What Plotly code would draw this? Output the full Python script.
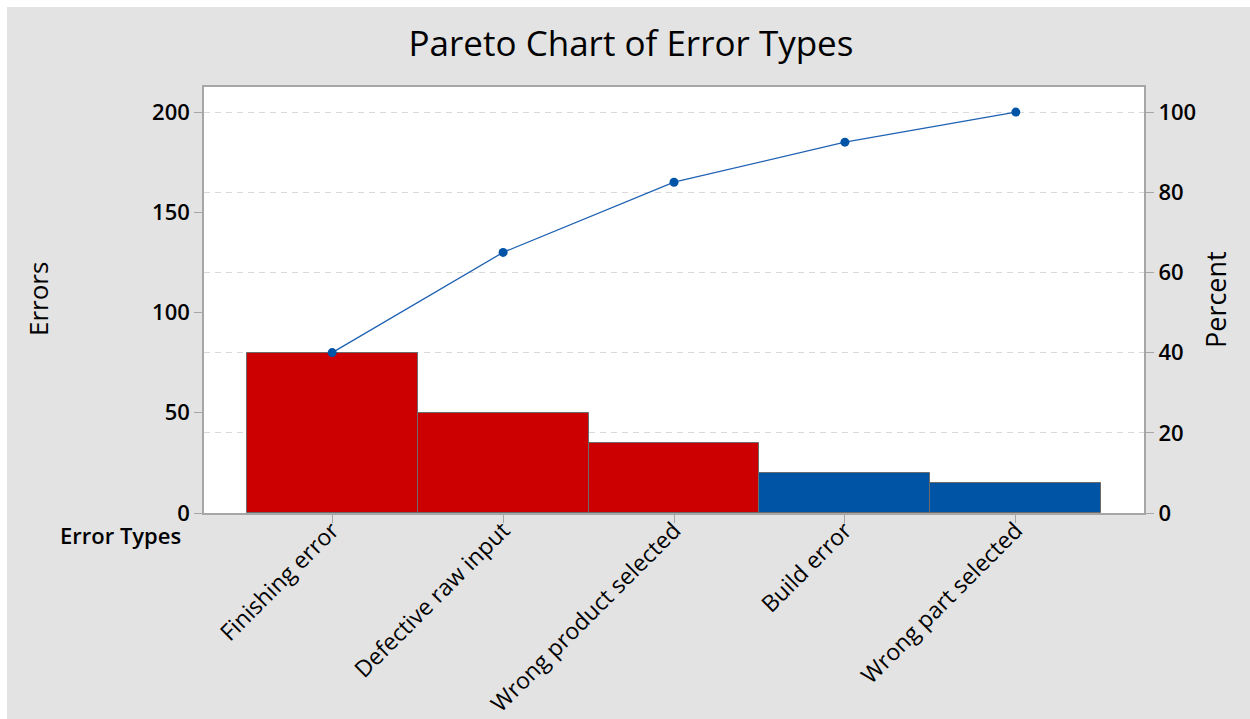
import numpy as np
import plotly.graph_objects as go

# Error counts by type, sorted from most to least frequent
error_types = [
    "Finishing error",
    "Defective raw input",
    "Wrong product selected",
    "Build error",
    "Wrong part selected",
]
error_counts = [80, 50, 35, 20, 15]

left_ticks = [0, 50, 100, 150, 200]
right_ticks = [0, 20, 40, 60, 80, 100]

# Cumulative percent for the Pareto line
cum_percent = list(np.cumsum(error_counts) / np.sum(error_counts) * 100)

RED = "#cc0000"
BLUE = "#0054a6"
bar_colors = [RED, RED, RED, BLUE, BLUE]

FONT = "Open Sans"
W, H = 1250, 719
ML, MR, MT, MB = 204, 106, 87, 206
pw, ph = W - ML - MR, H - MT - MB


def px_x(x):
    return (x - ML) / pw


def px_y(y):
    return (H - MB - y) / ph


fig = go.Figure()

fig.add_trace(go.Bar(
    x=error_types,
    y=error_counts,
    marker=dict(color=bar_colors, line=dict(color="#6b6b6b", width=1)),
    yaxis="y",
    showlegend=False,
    hoverinfo="x+y",
))

fig.add_trace(go.Scatter(
    x=error_types,
    y=cum_percent,
    mode="lines+markers",
    line=dict(color="#1f62b3", width=1.3),
    marker=dict(color=BLUE, size=9),
    yaxis="y2",
    showlegend=False,
))

y_max = 212.5
fig.update_layout(
    width=W,
    height=H,
    margin=dict(l=ML, r=MR, t=MT, b=MB, autoexpand=False),
    paper_bgcolor="white",
    plot_bgcolor="white",
    bargap=0,
    font=dict(family=FONT, color="black"),
    title=dict(
        text="Pareto Chart of Error Types",
        x=631 / W, xanchor="center",
        y=1 - 44 / H, yanchor="middle",
        font=dict(family=FONT, size=35, color="black"),
    ),
    xaxis=dict(
        range=[-0.75, 4.75],
        automargin=False,
        showline=True, linecolor="#a6a6a6", linewidth=1.5, mirror=True,
        ticks="outside", ticklen=8, tickcolor="#a6a6a6",
        tickangle=-45,
        ticklabelstandoff=-15,
        tickfont=dict(family=FONT, size=23, color="black"),
        showgrid=False,
    ),
    yaxis=dict(
        range=[0, y_max],
        automargin=False,
        tickvals=left_ticks,
        showline=True, linecolor="#a6a6a6", linewidth=1.5, mirror=True,
        ticks="outside", ticklen=8, tickcolor="#a6a6a6",
        tickfont=dict(family=FONT, size=22, color="black", weight=600),
        showgrid=False, zeroline=False,
    ),
    yaxis2=dict(
        range=[0, y_max / 2],
        automargin=False,
        tickvals=right_ticks,
        overlaying="y", side="right",
        showline=False,
        ticks="outside", ticklen=9, tickcolor="#a6a6a6",
        tickfont=dict(family=FONT, size=22, color="black", weight=600),
        showgrid=True, gridcolor="#d9d9d9", gridwidth=1, griddash="6px,5px",
        zeroline=False,
    ),
    shapes=[
        # grey panel behind the chart
        dict(type="rect", xref="paper", yref="paper",
             x0=px_x(7), x1=px_x(W + 5), y0=px_y(H + 5), y1=px_y(7),
             fillcolor="#e3e3e3", line=dict(width=0), layer="below"),
        # white plotting area on top of the panel
        dict(type="rect", xref="paper", yref="paper",
             x0=0, x1=1, y0=0, y1=1,
             fillcolor="white", line=dict(width=0), layer="below"),
    ],
    annotations=[
        dict(text="Errors", xref="paper", yref="paper",
             x=px_x(38), y=px_y(299), xanchor="center", yanchor="middle",
             textangle=-90, showarrow=False,
             font=dict(family=FONT, size=26, color="black")),
        dict(text="Percent", xref="paper", yref="paper",
             x=px_x(1215), y=px_y(300), xanchor="center", yanchor="middle",
             textangle=-90, showarrow=False,
             font=dict(family=FONT, size=27, color="black")),
        dict(text="Error Types", xref="paper", yref="paper",
             x=px_x(183), y=px_y(535), xanchor="right", yanchor="middle",
             showarrow=False,
             font=dict(family=FONT, size=22, color="black", weight=600)),
    ],
)

fig.write_html("out.html")
